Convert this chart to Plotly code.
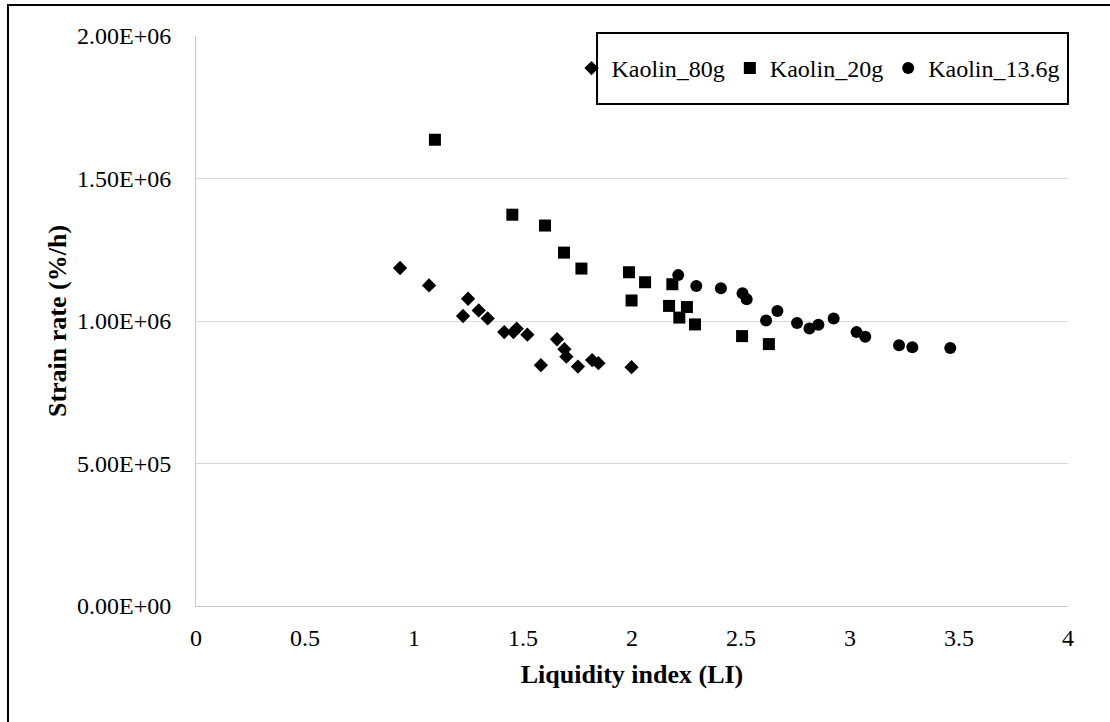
import plotly.graph_objects as go

# Liquidity index (LI) and strain rate (%/h) for each kaolin series
li_80g = [0.936, 1.069, 1.225, 1.248, 1.297, 1.338, 1.414, 1.456, 1.471, 1.520,
          1.582, 1.656, 1.690, 1.699, 1.752, 1.817, 1.846, 1.998]
rate_80g = [1.186e6, 1.125e6, 1.0175e6, 1.078e6, 1.037e6, 1.009e6, 0.961e6, 0.961e6,
            0.973e6, 0.952e6, 0.845e6, 0.936e6, 0.901e6, 0.875e6, 0.840e6, 0.863e6,
            0.852e6, 0.838e6]

li_20g = [1.096, 1.451, 1.601, 1.688, 1.768, 1.986, 1.998, 2.060, 2.170, 2.185,
          2.217, 2.252, 2.289, 2.505, 2.628]
rate_20g = [1.636e6, 1.373e6, 1.335e6, 1.240e6, 1.184e6, 1.171e6, 1.072e6, 1.136e6,
            1.053e6, 1.129e6, 1.012e6, 1.049e6, 0.988e6, 0.947e6, 0.919e6]

li_136g = [2.212, 2.295, 2.408, 2.507, 2.526, 2.615, 2.667, 2.757, 2.814, 2.855,
           2.925, 3.030, 3.070, 3.225, 3.286, 3.460]
rate_136g = [1.161e6, 1.123e6, 1.115e6, 1.097e6, 1.076e6, 1.002e6, 1.035e6, 0.993e6,
             0.974e6, 0.987e6, 1.009e6, 0.961e6, 0.945e6, 0.915e6, 0.908e6, 0.905e6]

y_tick_vals = [0, 5e5, 1e6, 1.5e6, 2e6]
y_tick_text = ["0.00E+00", "5.00E+05", "1.00E+06", "1.50E+06", "2.00E+06"]

FONT = "Times New Roman, Liberation Serif, serif"

fig = go.Figure()
fig.add_trace(go.Scatter(x=li_80g, y=rate_80g, mode="markers", name="Kaolin_80g",
                         marker=dict(symbol="diamond", size=11, color="black")))
fig.add_trace(go.Scatter(x=li_20g, y=rate_20g, mode="markers", name="Kaolin_20g",
                         marker=dict(symbol="square", size=12, color="black")))
fig.add_trace(go.Scatter(x=li_136g, y=rate_136g, mode="markers", name="Kaolin_13.6g",
                         marker=dict(symbol="circle", size=12, color="black")))

# outer frame around the whole chart
fig.add_shape(type="rect", xref="paper", yref="paper",
              x0=-0.2156, x1=1.06, y0=-0.22, y1=1.0544,
              line=dict(color="black", width=2), fillcolor="rgba(0,0,0,0)", layer="below")
# framed box behind the legend entries
fig.add_shape(type="rect", xref="paper", yref="paper",
              x0=0.4599, x1=1.0, y0=0.8807, y1=1.0053,
              line=dict(color="black", width=2), fillcolor="white", layer="above")

fig.update_layout(
    width=1110, height=722,
    margin=dict(l=196, r=42, t=36, b=116, autoexpand=False),
    paper_bgcolor="white", plot_bgcolor="white",
    font=dict(family=FONT, color="black", size=24),
    showlegend=True,
    legend=dict(orientation="h", x=0.996, xanchor="right", y=0.943, yanchor="middle",
                borderwidth=0, bgcolor="rgba(0,0,0,0)",
                font=dict(family=FONT, size=24, color="black"),
                itemwidth=30, tracegroupgap=0),
    xaxis=dict(range=[0, 4], dtick=0.5, tick0=0, showgrid=False, zeroline=False,
               showline=True, linecolor="#c8c8c8", linewidth=1,
               ticks="", ticklabelstandoff=10,
               tickfont=dict(family=FONT, size=24, color="black"),
               title=dict(text="<b>Liquidity index (LI)</b>", standoff=15,
                          font=dict(family=FONT, size=26, color="black"))),
    yaxis=dict(range=[0, 2e6], tickvals=y_tick_vals, ticktext=y_tick_text,
               showgrid=True, gridcolor="#d9d9d9", gridwidth=1, zeroline=False,
               showline=True, linecolor="#c8c8c8", linewidth=1,
               ticks="", ticklabelstandoff=19,
               tickfont=dict(family=FONT, size=24, color="black"),
               title=dict(text="<b>Strain rate (%/h)</b>", standoff=2,
                          font=dict(family=FONT, size=26, color="black"))),
)

fig.write_html("out.html")
